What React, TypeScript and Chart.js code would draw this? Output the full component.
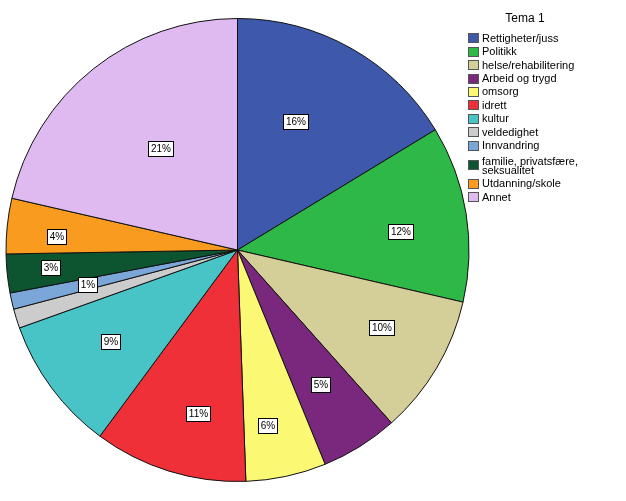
import React, { useEffect, useRef } from "react";
import { Chart, registerables } from "chart.js";

Chart.register(...registerables);

const legendTitle = "Tema 1";
const categories = [
  "Rettigheter/juss",
  "Politikk",
  "helse/rehabilitering",
  "Arbeid og trygd",
  "omsorg",
  "idrett",
  "kultur",
  "veldedighet",
  "Innvandring",
  "familie, privatsfære, seksualitet",
  "Utdanning/skole",
  "Annet",
];
const shares = [16.3, 12.3, 9.8, 5.4, 5.6, 10.7, 9.4, 1.35, 1.14, 2.7, 3.86, 21.4];
const hiddenLabels = ["veldedighet"];

const colors = [
  "#3E58AC",
  "#2EB848",
  "#D4CE98",
  "#79287E",
  "#FBF874",
  "#EF3038",
  "#48C3C6",
  "#CCCCCC",
  "#7BA6D8",
  "#0C5530",
  "#F89B1E",
  "#DEBAF1",
];
// label placement styling: distance as fraction of radius, angular nudge in degrees
const labelRadiusFrac = [0.61, 0.71, 0.705, 0.685, 0.77, 0.726, 0.674, 0.7, 0.666, 0.81, 0.785, 0.55];
const labelAngleNudge = [-5, 2.8, -2.4, 0.3, 2.5, -3.7, 0.8, 0, -0.3, 0.4, -1.8, 1.6];

const FONT = "'Liberation Sans', Arial, sans-serif";

const pieLabelsPlugin = {
  id: "pieLabels",
  afterDatasetsDraw(chart: any) {
    const ctx = chart.ctx;
    const meta = chart.getDatasetMeta(0);
    const data = chart.data.datasets[0].data as number[];
    const total = data.reduce((a, b) => a + b, 0);
    ctx.save();
    ctx.font = `10px ${FONT}`;
    ctx.textAlign = "center";
    ctx.textBaseline = "middle";
    meta.data.forEach((arc: any, i: number) => {
      if (hiddenLabels.includes(chart.data.labels[i])) return;
      const p = arc.getProps(["x", "y", "startAngle", "endAngle", "outerRadius"], true);
      const mid = (p.startAngle + p.endAngle) / 2 + (labelAngleNudge[i] * Math.PI) / 180;
      const r = p.outerRadius * labelRadiusFrac[i];
      const x = p.x + Math.cos(mid) * r;
      const y = p.y + Math.sin(mid) * r;
      const text = Math.round((data[i] / total) * 100) + "%";
      const w = Math.ceil(ctx.measureText(text).width) + 4;
      const h = 15;
      const bx = Math.round(x - w / 2) + 0.5;
      const by = Math.round(y - h / 2) + 0.5;
      ctx.fillStyle = "#fff";
      ctx.fillRect(bx, by, w, h);
      ctx.strokeStyle = "#000";
      ctx.lineWidth = 1;
      ctx.strokeRect(bx, by, w, h);
      ctx.fillStyle = "#000";
      ctx.fillText(text, bx + w / 2, by + h / 2 + 0.5);
    });
    ctx.restore();
  },
};

const legendPlugin = {
  id: "customLegend",
  afterDraw(chart: any) {
    const ctx = chart.ctx;
    const labels = chart.data.labels as string[];
    const bg = chart.data.datasets[0].backgroundColor as string[];
    const left = 468;
    const textX = 482;
    const maxW = 110;
    ctx.save();
    ctx.fillStyle = "#000";
    ctx.font = `12px ${FONT}`;
    ctx.textAlign = "center";
    ctx.textBaseline = "middle";
    ctx.fillText(legendTitle, 525, 19);
    ctx.font = `11px ${FONT}`;
    ctx.textAlign = "left";
    let y = 31.6;
    const rowH = 13.4;
    const lineH = 9.4;
    labels.forEach((lab, i) => {
      const words = lab.split(" ");
      const lines: string[] = [];
      let cur = "";
      words.forEach((w) => {
        const t = cur ? cur + " " + w : w;
        if (ctx.measureText(t).width > maxW && cur) {
          lines.push(cur);
          cur = w;
        } else cur = t;
      });
      lines.push(cur);
      const h = lines.length > 1 ? 25 + 9.4 * (lines.length - 2) : rowH;
      const cy = y + h / 2;
      ctx.fillStyle = bg[i];
      ctx.fillRect(left, Math.round(cy - 5), 11, 10);
      ctx.strokeStyle = "#555";
      ctx.lineWidth = 1;
      ctx.strokeRect(left + 0.5, Math.round(cy - 5) + 0.5, 10, 9);
      ctx.fillStyle = "#000";
      const startY = lines.length > 1 ? cy - 3.5 : cy;
      lines.forEach((ln, k) => ctx.fillText(ln, textX, startY + k * lineH + 0.5));
      y += h;
    });
    ctx.restore();
  },
};

export default function App() {
  const ref = useRef<HTMLCanvasElement | null>(null);
  useEffect(() => {
    if (!ref.current) return;
    const chart = new Chart(ref.current, {
      type: "pie",
      data: {
        labels: categories,
        datasets: [
          {
            data: shares,
            backgroundColor: colors,
            borderColor: "#111",
            borderWidth: 1,
          },
        ],
      },
      options: {
        responsive: false,
        animation: false,
        events: [],
        layout: { padding: { left: 5, top: 18, right: 156, bottom: 19 } },
        plugins: {
          legend: { display: false },
          tooltip: { enabled: false },
        },
      },
      plugins: [pieLabelsPlugin, legendPlugin],
    });
    return () => chart.destroy();
  }, []);
  return (
    <div style={{ position: "absolute", left: 0, top: 0, width: 626, height: 501, background: "#fff" }}>
      <canvas ref={ref} width={626} height={501} />
    </div>
  );
}
